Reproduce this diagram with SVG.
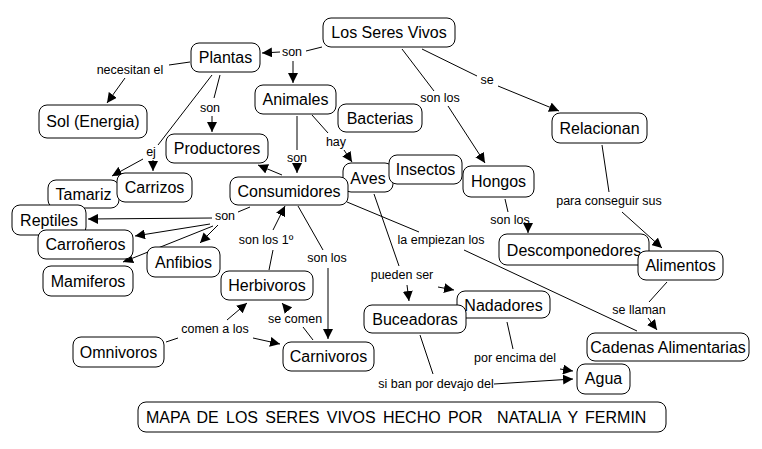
<svg xmlns="http://www.w3.org/2000/svg" width="762" height="449" viewBox="0 0 762 449">
<defs>
<marker id="ah" markerUnits="userSpaceOnUse" markerWidth="11" markerHeight="10" refX="10" refY="5" orient="auto">
<path d="M0,0 L10,5 L0,10 z" fill="#000"/>
</marker>
<style>
.n rect{fill:#fff;stroke:#000;stroke-width:1;}
.n text{font-family:"Liberation Sans",Arial,sans-serif;font-size:16px;fill:#000;text-anchor:middle;}
.c line{stroke:#000;stroke-width:1;}
.c line.a{marker-end:url(#ah);}
.l text{font-family:"Liberation Sans",Arial,sans-serif;font-size:12.5px;fill:#000;text-anchor:middle;}
</style>
</defs>
<rect width="762" height="449" fill="#fff"/>
<g id="connectors" class="c">
<line x1="322" y1="47" x2="306" y2="51"/>
<line class="a" x1="280" y1="52" x2="262" y2="53"/>
<line class="a" x1="293" y1="61" x2="293" y2="83"/>
<line x1="402" y1="49" x2="434" y2="91"/>
<line class="a" x1="448" y1="106" x2="485" y2="163"/>
<line x1="422" y1="49" x2="477" y2="76"/>
<line class="a" x1="498" y1="86" x2="559" y2="111"/>
<line x1="190" y1="62" x2="169" y2="65"/>
<line class="a" x1="125" y1="78" x2="107" y2="103"/>
<line x1="220" y1="75" x2="214" y2="98"/>
<line class="a" x1="212" y1="116" x2="212" y2="132"/>
<line x1="212" y1="75" x2="158" y2="145"/>
<line class="a" x1="143" y1="159" x2="112" y2="176"/>
<line class="a" x1="153" y1="160" x2="153" y2="171"/>
<line x1="297" y1="116" x2="297" y2="150"/>
<line class="a" x1="297" y1="164" x2="297" y2="173"/>
<line class="a" x1="282" y1="175" x2="258" y2="165"/>
<line x1="312" y1="115" x2="328" y2="133"/>
<line class="a" x1="344" y1="150" x2="352" y2="162"/>
<line x1="505" y1="199" x2="508" y2="212"/>
<line class="a" x1="528" y1="226" x2="528" y2="233"/>
<line x1="602" y1="145" x2="609" y2="192"/>
<line class="a" x1="622" y1="212" x2="662" y2="248"/>
<line x1="667" y1="282" x2="649" y2="302"/>
<line class="a" x1="648" y1="318" x2="657" y2="330"/>
<line x1="347" y1="202" x2="419" y2="232"/>
<line x1="464" y1="250" x2="637" y2="331"/>
<line x1="374" y1="194" x2="399" y2="266"/>
<line class="a" x1="407" y1="285" x2="409" y2="301"/>
<line class="a" x1="438" y1="287" x2="454" y2="290"/>
<line x1="250" y1="207" x2="238" y2="212"/>
<line class="a" x1="212" y1="218" x2="88" y2="219"/>
<line class="a" x1="210" y1="224" x2="135" y2="236"/>
<line class="a" x1="218" y1="225" x2="200" y2="243"/>
<line class="a" x1="213" y1="226" x2="123" y2="262"/>
<line x1="269" y1="270" x2="273" y2="250"/>
<line class="a" x1="273" y1="230" x2="285" y2="206"/>
<line x1="298" y1="206" x2="323" y2="250"/>
<line class="a" x1="328" y1="268" x2="328" y2="339"/>
<line x1="166" y1="342" x2="178" y2="338"/>
<line class="a" x1="227" y1="320" x2="247" y2="303"/>
<line class="a" x1="253" y1="338" x2="280" y2="344"/>
<line x1="313" y1="340" x2="303" y2="327"/>
<line class="a" x1="288" y1="310" x2="282" y2="303"/>
<line x1="507" y1="322" x2="513" y2="349"/>
<line class="a" x1="560" y1="369" x2="573" y2="371"/>
<line x1="420" y1="335" x2="433" y2="374"/>
<line class="a" x1="494" y1="384" x2="573" y2="379"/>
</g>
<g class="l">
<text x="292" y="56">son</text>
<text x="440" y="102">son los</text>
<text x="487" y="84">se</text>
<text x="130" y="74">necesitan el</text>
<text x="210" y="112">son</text>
<text x="151" y="156">ej</text>
<text x="297" y="162">son</text>
<text x="336" y="146">hay</text>
<text x="510" y="224">son los</text>
<text x="609" y="205">para conseguir sus</text>
<text x="639" y="314">se llaman</text>
<text x="441" y="244">la empiezan los</text>
<text x="402" y="279">pueden ser</text>
<text x="225" y="220">son</text>
<text x="266" y="244">son los 1º</text>
<text x="327" y="262">son los</text>
<text x="215" y="333">comen a los</text>
<text x="295" y="323">se comen</text>
<text x="515" y="362">por encima del</text>
<text x="436" y="388">si ban por devajo del</text>
</g>
<g id="n-seres" class="n"><rect x="323" y="18" width="132" height="29" rx="8"/><text x="389" y="38">Los Seres Vivos</text></g>
<g id="n-plantas" class="n"><rect x="191" y="43" width="69" height="29" rx="8"/><text x="225.5" y="63">Plantas</text></g>
<g id="n-animales" class="n"><rect x="255" y="85" width="81" height="29" rx="8"/><text x="295.5" y="105">Animales</text></g>
<g id="n-sol" class="n"><rect x="39" y="105" width="108" height="33" rx="8"/><text x="93" y="127">Sol (Energia)</text></g>
<g id="n-bacterias" class="n"><rect x="338" y="104" width="84" height="28" rx="8"/><text x="380" y="124">Bacterias</text></g>
<g id="n-productores" class="n"><rect x="166" y="134" width="102" height="29" rx="8"/><text x="217" y="154">Productores</text></g>
<g id="n-relacionan" class="n"><rect x="552" y="113" width="95" height="30" rx="8"/><text x="599.5" y="134">Relacionan</text></g>
<g id="n-aves" class="n"><rect x="343" y="163" width="50" height="29" rx="8"/><text x="368" y="184">Aves</text></g>
<g id="n-insectos" class="n"><rect x="389" y="155" width="73" height="29" rx="8"/><text x="425.5" y="175">Insectos</text></g>
<g id="n-consumidores" class="n"><rect x="230" y="177" width="118" height="28" rx="8"/><text x="289" y="197">Consumidores</text></g>
<g id="n-hongos" class="n"><rect x="463" y="166" width="71" height="31" rx="8"/><text x="498.5" y="187">Hongos</text></g>
<g id="n-tamariz" class="n"><rect x="48" y="180" width="71" height="28" rx="8"/><text x="83.5" y="200">Tamariz</text></g>
<g id="n-carrizos" class="n"><rect x="117" y="173" width="75" height="29" rx="8"/><text x="154.5" y="193">Carrizos</text></g>
<g id="n-reptiles" class="n"><rect x="12" y="205" width="74" height="30" rx="8"/><text x="49" y="225.5">Reptiles</text></g>
<g id="n-carroneros" class="n"><rect x="38" y="230" width="95" height="29" rx="8"/><text x="85.5" y="250">Carroñeros</text></g>
<g id="n-anfibios" class="n"><rect x="147" y="247" width="73" height="30" rx="8"/><text x="183.5" y="267.5">Anfibios</text></g>
<g id="n-mamiferos" class="n"><rect x="43" y="266" width="90" height="30" rx="8"/><text x="88" y="286.5">Mamiferos</text></g>
<g id="n-herbivoros" class="n"><rect x="221" y="271" width="92" height="29" rx="8"/><text x="267" y="291">Herbivoros</text></g>
<g id="n-omnivoros" class="n"><rect x="73" y="337" width="91" height="30" rx="8"/><text x="118.5" y="357.5">Omnivoros</text></g>
<g id="n-carnivoros" class="n"><rect x="283" y="342" width="91" height="29" rx="8"/><text x="328.5" y="362">Carnivoros</text></g>
<g id="n-nadadores" class="n"><rect x="457" y="291" width="93" height="27" rx="8"/><text x="503.5" y="310.5">Nadadores</text></g>
<g id="n-buceadoras" class="n"><rect x="364" y="305" width="102" height="28" rx="8"/><text x="415" y="325">Buceadoras</text></g>
<g id="n-descomponedores" class="n"><rect x="499" y="234" width="150" height="31" rx="8"/><text x="574" y="255.5">Descomponedores</text></g>
<g id="n-alimentos" class="n"><rect x="638" y="251" width="85" height="29" rx="8"/><text x="680.5" y="271">Alimentos</text></g>
<g id="n-cadenas" class="n"><rect x="587" y="333" width="162" height="28" rx="8"/><text x="668" y="353">Cadenas Alimentarias</text></g>
<g id="n-agua" class="n"><rect x="577" y="364" width="53" height="30" rx="8"/><text x="603.5" y="384">Agua</text></g>
<g id="n-titulo" class="n"><rect x="138" y="402" width="528" height="30" rx="8"/><text x="146" y="423" style="text-anchor:start;white-space:pre" word-spacing="2.8">MAPA DE LOS SERES VIVOS HECHO POR  NATALIA Y FERMIN</text></g>
</svg>
